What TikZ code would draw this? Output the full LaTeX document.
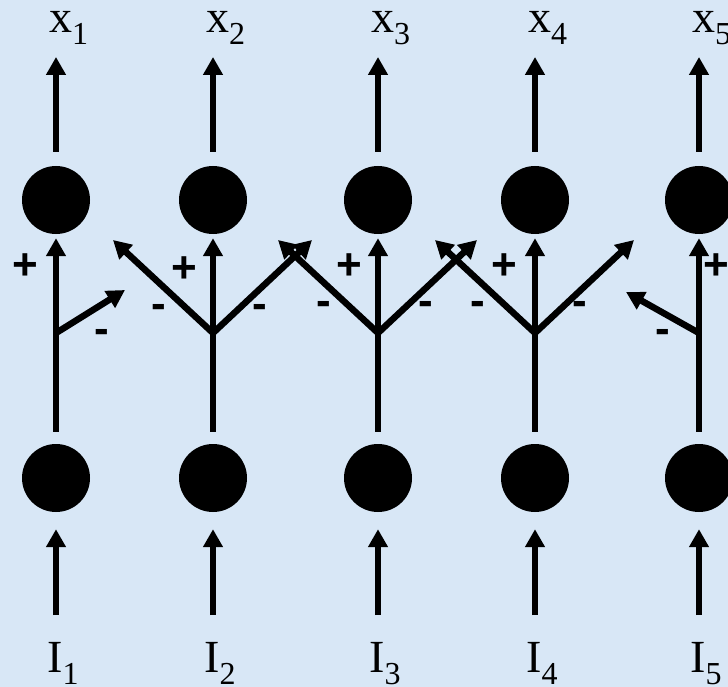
\documentclass[tikz,border=0pt]{standalone}
\usepackage{fontspec}
\setmainfont{Liberation Serif}
\setsansfont{Liberation Sans}
\usetikzlibrary{arrows.meta}
\definecolor{paper}{RGB}{216,231,246}
\newcommand{\lbl}[2]{#1\raisebox{-12pt}{\fontsize{32}{32}\selectfont #2}}
\begin{document}
\begin{tikzpicture}[x=1pt,y=-1pt,
  neuron/.style={circle,fill=black,draw=none,minimum size=68pt,inner sep=0pt},
  wire/.style={line width=6.5pt,-{Triangle[length=18pt,width=19pt]}},
  celllabel/.style={anchor=base west,inner sep=0pt,font=\fontsize{46}{46}\selectfont},
  plussign/.style={anchor=base,inner sep=0pt,font=\fontsize{44}{44}\selectfont\sffamily\bfseries,yshift=-14pt},
  minussign/.style={anchor=base,inner sep=0pt,font=\fontsize{44}{44}\selectfont\sffamily\bfseries,yshift=-10pt}]
  \fill[paper] (0,0) rectangle (728,687);
  \useasboundingbox (0,0) rectangle (728,687);

  % five columns: output cell on top, input cell below
  \foreach \i/\c in {1/56,2/213,3/378,4/535,5/699}{
    \node[neuron] (t\i) at (\c,200) {};
    \node[neuron] (b\i) at (\c,478) {};
    \coordinate (o\i) at (\c,57);
    \coordinate (s\i) at (\c,615);
    \coordinate (j\i) at (\c,333);
    \node[celllabel] (x\i) at (\c-7,33) {\lbl{x}{\i}};
    \node[celllabel] (in\i) at (\c-9,672) {\lbl{I}{\i}};
    % output and input arrows
    \draw[wire] ([yshift=14pt]t\i.north) -- (o\i);
    \draw[wire] (s\i) -- ([yshift=-17pt]b\i.south);
    % excitatory path from input cell to output cell
    \draw[wire] ([yshift=12pt]b\i.north) -- ([yshift=-4pt]t\i.south);
  }

  % lateral inhibitory branches
  \coordinate (r1) at (125,290);
  \coordinate (l5) at (626,292);
  \foreach \i/\c in {2/213,3/378,4/535}{
    \coordinate (l\i) at (\c-100,240);
    \coordinate (r\i) at (\c+99,240);
  }
  \draw[wire] (j1) -- (r1);
  \foreach \i in {2,3,4}{
    \draw[wire] (j\i) -- (l\i);
    \draw[wire] (j\i) -- (r\i);
  }
  \draw[wire] (j5) -- (l5);

  % signs of the connections
  \node[plussign] (p1) at (25,265) {+};
  \node[plussign] (p2) at (184,268) {+};
  \node[plussign] (p3) at (349,265) {+};
  \node[plussign] (p4) at (504,265) {+};
  \node[plussign] (p5) at (716,265) {+};
  \node[minussign] (m1) at (102,333) {-};
  \node[minussign] (m2l) at (159,308) {-};
  \node[minussign] (m2r) at (260,308) {-};
  \node[minussign] (m3l) at (324,305) {-};
  \node[minussign] (m3r) at (426,305) {-};
  \node[minussign] (m4l) at (478,305) {-};
  \node[minussign] (m4r) at (580,305) {-};
  \node[minussign] (m5) at (663,333) {-};
\end{tikzpicture}
\end{document}
